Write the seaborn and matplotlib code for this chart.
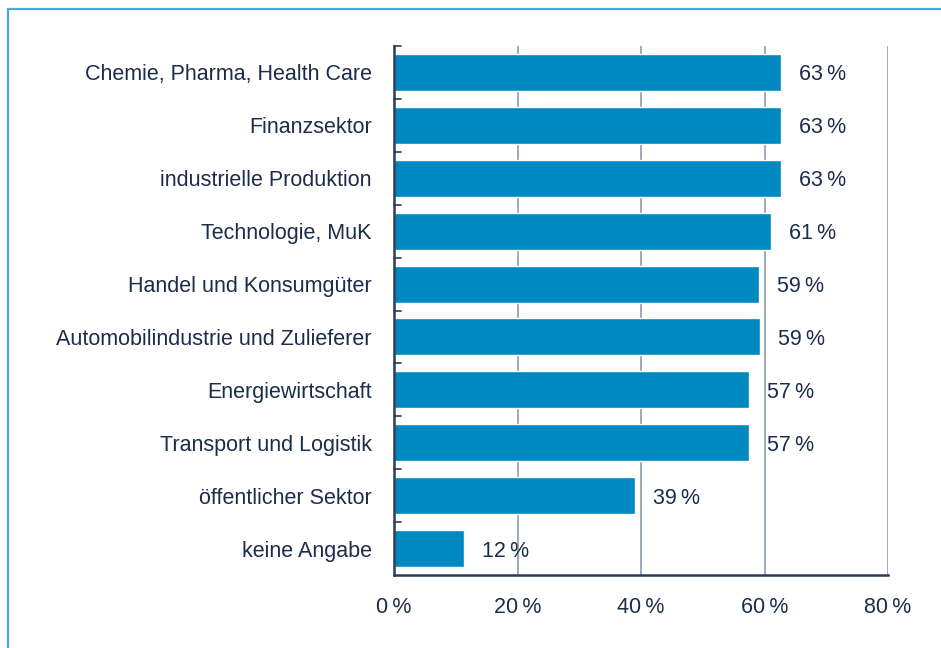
import numpy as np
import pandas as pd
import matplotlib
matplotlib.use("Agg")
import matplotlib.pyplot as plt
from matplotlib.lines import Line2D
import seaborn as sns

# -------------------------
# Data
# -------------------------
sectors = [
    "Chemie, Pharma, Health Care",
    "Finanzsektor",
    "industrielle Produktion",
    "Technologie, MuK",
    "Handel und Konsumgüter",
    "Automobilindustrie und Zulieferer",
    "Energiewirtschaft",
    "Transport und Logistik",
    "öffentlicher Sektor",
    "keine Angabe",
]
shares = [62.7, 62.7, 62.7, 61.0, 59.1, 59.2, 57.5, 57.5, 39.0, 11.4]
share_labels = ["63", "63", "63", "61", "59", "59", "57", "57", "39", "12"]
x_ticks = [0, 20, 40, 60, 80]

df = pd.DataFrame({"sector": sectors, "share": shares})

# -------------------------
# Style
# -------------------------
sns.set_theme(style="white")
plt.rcParams["font.family"] = ["Liberation Sans", "DejaVu Sans"]

text_col = "#1b2d4b"
bar_col = "#0088c1"
grid_col = "#8e9bb3"
spine_col = "#2b3c5a"
fs = 15.5

fig = plt.figure(figsize=(9.41, 6.48), dpi=100)
ax = fig.add_axes([394 / 941, 1 - 575 / 648, 494 / 941, 529 / 648])

sns.barplot(data=df, x="share", y="sector", color=bar_col, saturation=1,
            width=0.70, ax=ax, zorder=2)

ax.set_xlim(0, 80)
ax.set_ylim(len(sectors) - 0.5, -0.5)
ax.set_xlabel("")
ax.set_ylabel("")

# vertical grid behind bars
for t in x_ticks[1:]:
    ax.axvline(t, color=grid_col, lw=1.2, zorder=1)

ax.set_xticks(x_ticks)
ax.set_xticklabels([f"{t}\u2009%" for t in x_ticks], fontsize=fs, color=text_col)
ax.tick_params(axis="x", direction="in", length=5, width=1.2, color=spine_col, pad=16)

ax.set_yticks(range(len(sectors)))
ax.set_yticklabels(sectors, fontsize=fs, color=text_col, va="center_baseline")
ax.tick_params(axis="y", length=0, pad=16)
# small ticks at category boundaries on left spine
for b in np.arange(-0.5, len(sectors) - 0.5, 1.0):
    ax.plot([0, 1.2], [b, b], color=spine_col, lw=1.2, zorder=3, clip_on=False)

for side in ["top", "right"]:
    ax.spines[side].set_visible(False)
ax.spines["left"].set_color(spine_col)
ax.spines["left"].set_linewidth(1.8)
ax.spines["bottom"].set_color(spine_col)
ax.spines["bottom"].set_linewidth(1.8)

# value labels
for i, (v, lab) in enumerate(zip(shares, share_labels)):
    ax.annotate(f"{lab}\u2009%", xy=(v, i), xytext=(13, 0), textcoords="offset points",
                va="center_baseline", ha="left", fontsize=fs, color=text_col)

# light blue frame
frame_col = "#4ea6d3"
fig.add_artist(Line2D([7.5 / 941, 7.5 / 941], [0, 1 - 9 / 648], color=frame_col, lw=1.6))
fig.add_artist(Line2D([7.5 / 941, 1], [1 - 9 / 648, 1 - 9 / 648], color=frame_col, lw=1.6))

fig.savefig("out.png", dpi=100)
